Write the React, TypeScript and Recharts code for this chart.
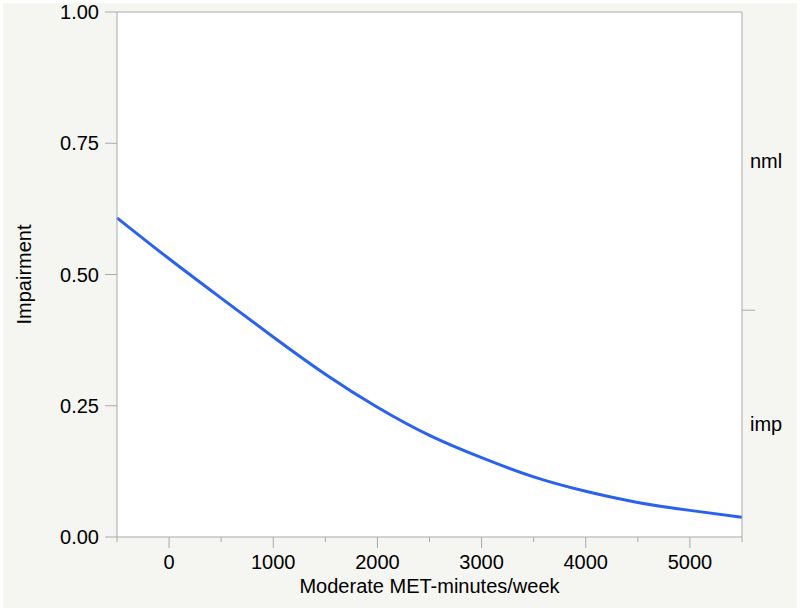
import React from 'react';
import { CartesianGrid, Label, Line, LineChart, ReferenceLine, XAxis, YAxis } from 'recharts';

// values
const minutes = [-500, 0, 500, 1000, 1500, 2000, 2500, 3000, 3500, 4000, 4500, 5000, 5500];
const impairment = [0.608, 0.530, 0.455, 0.381, 0.310, 0.247, 0.1935, 0.151, 0.1145, 0.087, 0.0658, 0.0507, 0.0375];

const xTicks = [-500, 0, 500, 1000, 1500, 2000, 2500, 3000, 3500, 4000, 4500, 5000, 5500];
const yTicks = [0, 0.25, 0.5, 0.75, 1];

// right axis: category boundary and label positions (midpoints)
const levelBoundary = 0.432;
const levelLabels = [
  { pos: 0.216, name: 'imp' },
  { pos: 0.716, name: 'nml' },
];

const data = minutes.map((m, i) => ({ x: m, p: impairment[i] }));

const FONT = '"Liberation Sans", Arial, sans-serif';
const FS = 20;
const AXIS = '#a9a9a9';

const XTick = ({ x, y, payload }: any) => {
  const v = payload.value;
  const major = v % 1000 === 0;
  return (
    <g>
      <line x1={x} x2={x} y1={y} y2={y + (major ? 11 : 5)} stroke={AXIS} />
      {major && (
        <text x={x} y={y + 32} textAnchor="middle" fontSize={FS} fill="#000" fontFamily={FONT}>
          {v}
        </text>
      )}
    </g>
  );
};

const RightTick = ({ x, y, payload }: any) => {
  const v = payload.value;
  if (v === levelBoundary) {
    return <line x1={x} x2={x + 13} y1={y} y2={y} stroke={AXIS} />;
  }
  const lab = levelLabels.find((l) => l.pos === v);
  return (
    <text x={x + 8} y={y} dy="0.35em" textAnchor="start" fontSize={FS} fill="#000" fontFamily={FONT}>
      {lab ? lab.name : ''}
    </text>
  );
};

export default function App() {
  return (
    <div style={{ position: 'absolute', left: 0, top: 0, width: 800, height: 611, background: '#fff' }}>
      <div style={{ position: 'absolute', left: 3, top: 3, width: 794, height: 605, background: '#f5f5f1' }} />
      <div style={{ position: 'absolute', left: 0, top: 0 }}>
        <LineChart width={800} height={611} data={data} margin={{ top: 12, right: 0, bottom: 0, left: 0 }}>
          <CartesianGrid fill="#fff" horizontal={false} vertical={false} />
          <XAxis
            type="number"
            dataKey="x"
            domain={[-500, 5500]}
            ticks={xTicks}
            interval={0}
            height={74}
            stroke={AXIS}
            tickLine={false}
            tickSize={0}
            tickMargin={0}
            tick={<XTick />}
          >
            <Label
              value="Moderate MET-minutes/week"
              position="insideBottom"
              offset={18}
              style={{ fontSize: FS, fill: '#000', fontFamily: FONT }}
            />
          </XAxis>
          <YAxis
            yAxisId="left"
            type="number"
            domain={[0, 1]}
            ticks={yTicks}
            interval={0}
            width={117}
            stroke={AXIS}
            tickSize={12}
            tickMargin={6}
            tickFormatter={(v: number) => v.toFixed(2)}
            tick={{ fontSize: FS, fill: '#000', fontFamily: FONT }}
          >
            <Label
              content={({ viewBox }: any) => {
                const cx = viewBox.x + 24;
                const cy = viewBox.y + viewBox.height / 2;
                return (
                  <text
                    x={cx}
                    y={cy}
                    transform={`rotate(-90, ${cx}, ${cy})`}
                    textAnchor="middle"
                    dominantBaseline="central"
                    fontSize={FS}
                    fill="#000"
                    fontFamily={FONT}
                  >
                    Impairment
                  </text>
                );
              }}
            />
          </YAxis>
          <YAxis
            yAxisId="right"
            orientation="right"
            type="number"
            domain={[0, 1]}
            ticks={[levelLabels[0].pos, levelBoundary, levelLabels[1].pos]}
            interval={0}
            width={58}
            stroke={AXIS}
            tickLine={false}
            tickSize={0}
            tickMargin={0}
            tick={<RightTick />}
          />
          <ReferenceLine yAxisId="left" y={1} stroke={AXIS} />
          <Line
            yAxisId="right"
            dataKey="p"
            stroke="none"
            dot={false}
            activeDot={false}
            legendType="none"
            isAnimationActive={false}
          />
          <Line
            yAxisId="left"
            type="natural"
            dataKey="p"
            stroke="#2a62ee"
            strokeWidth={3}
            dot={false}
            isAnimationActive={false}
          />
        </LineChart>
      </div>
    </div>
  );
}
